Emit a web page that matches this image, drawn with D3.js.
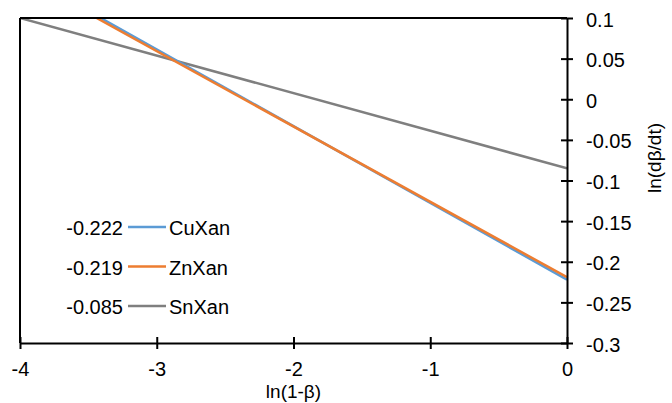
<!DOCTYPE html>
<html>
<head>
<meta charset="utf-8">
<script src="https://cdn.jsdelivr.net/npm/d3@7"></script>
<style>
body { margin:0; background:#fff; }
text { font-family: "Liberation Sans", Arial, sans-serif; fill:#000; }
</style>
</head>
<body>
<svg id="chart"></svg>
<script>
// ln(dβ/dt) vs ln(1-β) fitted lines

var names = ["SnXan", "CuXan", "ZnXan"];
var colors = ["#7f7f7f", "#5b9bd5", "#ed7d31"];
// line endpoints [x, y]
var startPts = [[-4, 0.1], [-3.41, 0.1], [-3.44, 0.1]];
var endPts = [[0, -0.085], [0, -0.222], [0, -0.219]];
// labels shown inside the plot (intercepts)
var legendNames = ["CuXan", "ZnXan", "SnXan"];
var legendValues = ["-0.222", "-0.219", "-0.085"];
var legendColors = ["#5b9bd5", "#ed7d31", "#7f7f7f"];
var xTicks = [-4, -3, -2, -1, 0];
var yTicks = [-0.3, -0.25, -0.2, -0.15, -0.1, -0.05, 0, 0.05, 0.1];

var W = 672, H = 403;
var margin = {top:18, right:105, bottom:60, left:20},
width = W - margin.left - margin.right,
height = H - margin.top - margin.bottom;

var svg = d3.select("#chart")
.attr("width", W)
.attr("height", H)
.append("g")
.attr("transform", "translate(" + margin.left + "," + margin.top + ")");

var x = d3.scaleLinear().domain([-4, 0]).range([0, width]);
var y = d3.scaleLinear().domain([-0.3, 0.1]).range([height, 0]);

svg.append("clipPath").attr("id", "clip")
.append("rect").attr("width", width).attr("height", height);

// lines
var line = d3.line().x(function(d){return x(d[0]);}).y(function(d){return y(d[1]);});
svg.append("g").attr("clip-path", "url(#clip)")
.selectAll("path")
.data(names)
.enter()
.append("path")
.attr("d", function(d, i){return line([startPts[i], endPts[i]]);})
.attr("fill", "none")
.attr("stroke", function(d, i){return colors[i];})
.attr("stroke-width", 2.5);

// frame top + left
svg.append("line").attr("x1", 0).attr("x2", width).attr("y1", 0).attr("y2", 0)
.attr("stroke", "#000").attr("stroke-width", 2);
svg.append("line").attr("x1", 0).attr("x2", 0).attr("y1", 0).attr("y2", height)
.attr("stroke", "#000").attr("stroke-width", 2);

// x axis
var gx = svg.append("g")
.attr("transform", "translate(0," + height + ")")
.call(d3.axisBottom(x).tickValues(xTicks).tickFormat(function(d){return String(d);}).tickSize(0).tickPadding(0));
gx.select(".domain").attr("stroke", "#000").attr("stroke-width", 2);
gx.selectAll(".tick line").attr("y1", -6).attr("y2", 6).attr("stroke-width", 2);
gx.selectAll("text").attr("y", 19).style("font-size", "20px");

// y axis on the right
var gy = svg.append("g")
.attr("transform", "translate(" + width + ",0)")
.call(d3.axisRight(y).tickValues(yTicks).tickFormat(function(d){return String(+d.toFixed(2));}).tickSize(0).tickPadding(19));
gy.select(".domain").attr("stroke", "#000").attr("stroke-width", 2);
gy.selectAll(".tick line").attr("x1", -6).attr("x2", 6).attr("stroke-width", 2);
gy.selectAll("text").attr("dy", "0.4em").style("font-size", "20px");

// axis titles
svg.append("text")
.attr("x", x(-2))
.attr("y", height + 55)
.attr("text-anchor", "middle")
.style("font-size", "19px")
.text("ln(1-β)");

svg.append("text")
.attr("transform", "translate(" + (width + 94) + "," + 140 + ")rotate(-90)")
.attr("text-anchor", "middle")
.style("font-size", "19px")
.text("ln(dβ/dt)");

// inline legend with intercepts
var leg = svg.append("g")
.selectAll("g")
.data(legendNames)
.enter()
.append("g")
.attr("transform", function(d, i){return "translate(0," + (209 + i * 39.5) + ")";});

leg.append("text")
.attr("x", 103)
.attr("dy", "0.4em")
.attr("text-anchor", "end")
.style("font-size", "20px")
.text(function(d, i){return legendValues[i];});

leg.append("line")
.attr("x1", 108).attr("x2", 146)
.attr("stroke", function(d, i){return legendColors[i];})
.attr("stroke-width", 2.5);

leg.append("text")
.attr("x", 149)
.attr("dy", "0.4em")
.style("font-size", "20px")
.text(function(d){return d;});
</script>
</body>
</html>
